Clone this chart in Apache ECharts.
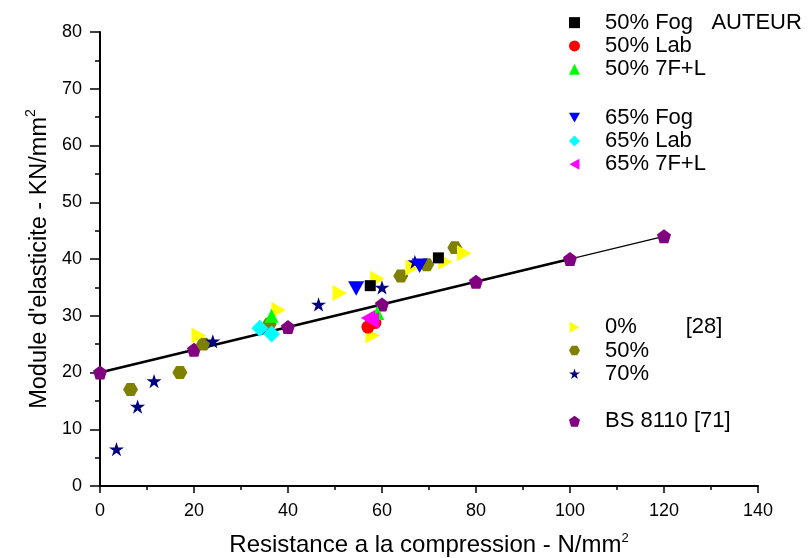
<!DOCTYPE html>
<html><head><meta charset="utf-8">
<script src="https://cdn.jsdelivr.net/npm/echarts@6/dist/echarts.min.js"></script>
<style>html,body{margin:0;padding:0;background:#fff}#c{width:810px;height:558px}</style>
</head><body><div id="c"></div>
<script>
// Data: [compression strength N/mm2, elastic modulus KN/mm2]
const fog50 = [[57.5,35.3],[72,40.2]];
const lab50 = [[57,28],[58.5,28.8]];
const f7l50 = [[36.5,30],[59,30.5]];
const fog65 = [[54.5,34.8],[68,38.8]];
const lab65 = [[34,27.8],[36.5,26.8]];
const f7l65 = [[57,29.6],[57.8,29.2]];
const pct0 = [[21,26.5],[38,31],[51,34],[58,26.5],[59,36.5],[66.5,38.5],[73.5,39.5],[77.5,41]];
const pct50 = [[6.5,17],[17,20],[22,25],[36,28.5],[64,37],[69.5,39],[75.5,42]];
const pct70 = [[3.5,6.5],[8,14],[11.5,18.5],[24,25.5],[46.5,32],[60,35],[67,39.5]];
const bs8110 = [[0,20],[20,24],[40,28],[60,32],[80,36],[100,40],[120,44]];
const fitThick = [[0,20],[100,40]];
const fitThin = [[0,20],[120,44]];
const xTicks = [0,20,40,60,80,100,120,140];
const yTicks = [0,10,20,30,40,50,60,70,80];

const names = ['50% Fog   AUTEUR','50% Lab','50% 7F+L','65% Fog','65% Lab','65% 7F+L','0%        [28]','50%','70%','BS 8110 [71]'];
const HEX = 'path://M25,7 L75,7 L100,50 L75,93 L25,93 L0,50 Z';
const STAR = 'path://M50,0 L61.2,34.5 L97.6,34.5 L68.2,55.9 L79.4,90.5 L50,69.1 L20.6,90.5 L31.8,55.9 L2.4,34.5 L38.8,34.5 Z';
const PENT = 'path://M50,0 L100,38 L81,100 L19,100 L0,38 Z';
const TRI_DOWN = 'path://M0,0 L100,0 L50,90 Z';
const TRI_LEFT = 'path://M90,0 L90,100 L0,50 Z';
const TRI_RIGHT = 'path://M0,0 L90,50 L0,100 Z';

function sc(name, data, color, symbol, size) {
  return {type:'scatter', name, data, symbol, symbolSize:size, symbolKeepAspect:true,
    itemStyle:{color, opacity:1}, z:3};
}
const series = [
  {type:'line', data:fitThin, symbol:'none', lineStyle:{color:'#000', width:1.2}, z:2, silent:true},
  {type:'line', data:fitThick, symbol:'none', lineStyle:{color:'#000', width:2.6}, z:2, silent:true},
  sc(names[9], bs8110, '#800080', PENT, 14),
  sc(names[7], pct50, '#808000', HEX, 15),
  sc(names[6], pct0, '#ffff00', TRI_RIGHT, 16),
  sc(names[8], pct70, '#000080', STAR, 15),
  sc(names[0], fog50, '#000000', 'rect', 11),
  sc(names[1], lab50, '#ff0000', 'circle', 13),
  sc(names[2], f7l50, '#00ff00', 'triangle', 14),
  sc(names[3], fog65, '#0000ff', TRI_DOWN, 16),
  sc(names[4], lab65, '#00ffff', 'diamond', 17),
  sc(names[5], f7l65, '#ff00ff', TRI_LEFT, 16)
];
function lg(items, top) {
  return {orient:'vertical', left:564, top, data:items, itemWidth:11, itemHeight:11, itemGap:0,
    selectedMode:false, textStyle:{fontSize:22, color:'#000', fontFamily:'Liberation Sans, Arial', lineHeight:23.3, padding:[0,0,0,20]}};
}
const FONT = 'Liberation Sans, Arial';
const chart = echarts.init(document.getElementById('c'), null, {renderer:'canvas'});
chart.setOption({
  animation:false,
  grid:{left:100, right:52, top:32, bottom:72, containLabel:false, outerBoundsMode:'none'},
  legend:[lg(names.slice(0,3),6), lg(names.slice(3,6),101), lg(names.slice(6,9),310.5), lg(names.slice(9,10),404.5)],
  xAxis:{type:'value', min:0, max:140, interval:20,
    name:'{a|Resistance a la compression - N/mm}{s|2}', nameLocation:'middle', nameGap:46,
    nameTextStyle:{rich:{a:{fontSize:24, color:'#000', fontFamily:FONT}, s:{fontSize:13, color:'#000', fontFamily:FONT, padding:[0,0,14,0]}}},
    axisLine:{lineStyle:{color:'#000', width:2}}, axisTick:{length:7, lineStyle:{color:'#000', width:1.5}},
    minorTick:{show:true, splitNumber:2, length:4, lineStyle:{color:'#000', width:1.5}},
    axisLabel:{fontSize:18, color:'#000', fontFamily:FONT, margin:16, formatter:v=>xTicks.includes(v)?String(v):''},
    splitLine:{show:false}},
  yAxis:{type:'value', min:0, max:80, interval:10,
    name:'{a|Module d\'elasticite - KN/mm}{s|2}', nameLocation:'middle', nameGap:46,
    nameTextStyle:{rich:{a:{fontSize:23.5, color:'#000', fontFamily:FONT}, s:{fontSize:14, color:'#000', fontFamily:FONT, padding:[0,0,15,0]}}},
    axisLine:{show:true, lineStyle:{color:'#000', width:2}}, axisTick:{show:true, length:10, lineStyle:{color:'#000', width:1.5}},
    minorTick:{show:true, splitNumber:2, length:5, lineStyle:{color:'#000', width:1.5}},
    axisLabel:{fontSize:18, color:'#000', fontFamily:FONT, margin:18, formatter:v=>yTicks.includes(v)?String(v):''},
    splitLine:{show:false}},
  series
});
</script></body></html>
